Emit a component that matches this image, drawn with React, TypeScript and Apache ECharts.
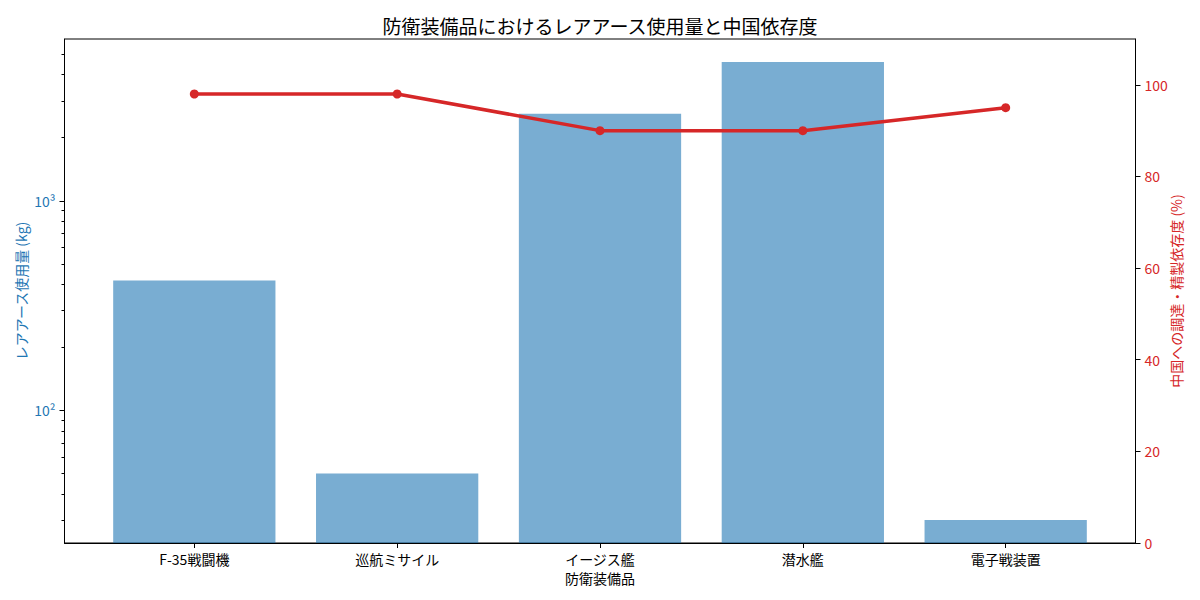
import React, { useEffect, useRef } from "react";
import * as echarts from "echarts";

const CATEGORIES = ["F-35戦闘機", "巡航ミサイル", "イージス艦", "潜水艦", "電子戦装置"];
const USAGE_KG = [417, 50, 2600, 4600, 30];
const CHINA_DEPENDENCE = [98, 98, 90, 90, 95];
const LOG_MAJOR_TICKS = [100, 1000];
const LOG_MINOR_TICKS = [30, 40, 50, 60, 70, 80, 90, 200, 300, 400, 500, 600, 700, 800, 900, 2000, 3000, 4000, 5000];
const PCT_TICKS = [0, 20, 40, 60, 80, 100];
const PCT_MAX = 110;

const TITLE = "防衛装備品におけるレアアース使用量と中国依存度";
const X_NAME = "防衛装備品";
const Y_LEFT_NAME = "レアアース使用量 (kg)";
const Y_RIGHT_NAME = "中国への調達・精製依存度 (%)";

const FONT = "'Noto Sans CJK JP', 'Noto Sans', sans-serif";
const BLUE = "#1f77b4";
const RED = "#d62728";

const SUP: Record<string, string> = { "0": "⁰", "1": "¹", "2": "²", "3": "³", "4": "⁴", "5": "⁵", "6": "⁶", "7": "⁷", "8": "⁸", "9": "⁹" };

export default function App() {
  const ref = useRef<HTMLDivElement>(null);
  useEffect(() => {
    document.body.style.margin = "0";
    const chart = echarts.init(ref.current!, undefined, { renderer: "svg" });

    const lo = Math.log10(Math.min(...USAGE_KG));
    const hi = Math.log10(Math.max(...USAGE_KG));
    const m = (hi - lo) * 0.05;
    const yMin = Math.pow(10, lo - m);
    const yMax = Math.pow(10, hi + m);

    const n = CATEGORIES.length;
    const xMin = -0.4 - (n - 1 + 0.8) * 0.05;
    const xMax = n - 1 + 0.4 + (n - 1 + 0.8) * 0.05;

    const gridLeft = 64.5;
    const gridRight = 64.5;
    const gridW = 1200 - gridLeft - gridRight;
    const barW = (0.8 * gridW) / (xMax - xMin);

    const xs = CATEGORIES.map((_, i) => i);

    chart.setOption({
      animation: false,
      backgroundColor: "#ffffff",
      textStyle: { fontFamily: FONT },
      title: {
        text: TITLE,
        left: "center",
        top: 11,
        textStyle: { fontFamily: FONT, fontSize: 19, fontWeight: "normal", color: "#000" },
      },
      grid: {
        left: gridLeft,
        right: gridRight,
        top: 39,
        bottom: 57,
        show: true,
        borderColor: "#000",
        borderWidth: 1,
        backgroundColor: "transparent",
      },
      xAxis: {
        type: "value",
        min: xMin,
        max: xMax,
        z: 10,
        name: X_NAME,
        nameLocation: "middle",
        nameGap: 28,
        nameMoveOverlap: false,
        nameTextStyle: { fontFamily: FONT, fontSize: 14, color: "#000" },
        axisLine: { show: true, onZero: false, lineStyle: { color: "#000", width: 1 } },
        axisTick: { show: true, length: 5, customValues: xs, lineStyle: { color: "#000" } },
        axisLabel: {
          customValues: xs,
          margin: 9,
          fontFamily: FONT,
          fontSize: 14,
          color: "#000",
          formatter: (v: number) => CATEGORIES[Math.round(v)] ?? "",
        },
        splitLine: { show: false },
      },
      yAxis: [
        {
          type: "log",
          logBase: 10,
          min: yMin,
          max: yMax,
          startValue: yMin,
          position: "left",
          z: 10,
          name: Y_LEFT_NAME,
          nameLocation: "middle",
          nameGap: 37,
          nameMoveOverlap: false,
          nameRotate: 90,
          nameTextStyle: { fontFamily: FONT, fontSize: 14, color: BLUE },
          axisLine: { show: true, onZero: false, lineStyle: { color: "#000", width: 1 } },
          axisTick: { show: true, length: 5, customValues: LOG_MAJOR_TICKS, lineStyle: { color: "#000" } },
          axisLabel: {
            customValues: LOG_MAJOR_TICKS,
            margin: 9,
            fontFamily: FONT,
            fontSize: 14,
            color: BLUE,
            formatter: (v: number) =>
              "10" + String(Math.round(Math.log10(v))).split("").map((c) => SUP[c] ?? c).join(""),
          },
          splitLine: { show: false },
          minorTick: { show: false },
        },
        {
          type: "log",
          logBase: 10,
          min: yMin,
          max: yMax,
          position: "left",
          z: 10,
          axisLine: { show: false, onZero: false },
          axisTick: { show: true, length: 3, customValues: LOG_MINOR_TICKS, lineStyle: { color: "#000" } },
          axisLabel: { show: false },
          splitLine: { show: false },
        },
        {
          type: "value",
          min: 0,
          max: PCT_MAX,
          position: "right",
          z: 10,
          name: Y_RIGHT_NAME,
          nameLocation: "middle",
          nameGap: 33,
          nameMoveOverlap: false,
          nameRotate: 90,
          nameTextStyle: { fontFamily: FONT, fontSize: 14, color: RED },
          axisLine: { show: true, onZero: false, lineStyle: { color: "#000", width: 1 } },
          axisTick: { show: true, length: 5, customValues: PCT_TICKS, lineStyle: { color: "#000" } },
          axisLabel: {
            customValues: PCT_TICKS,
            margin: 9,
            fontFamily: FONT,
            fontSize: 14,
            color: RED,
          },
          splitLine: { show: false },
        },
      ],
      series: [
        {
          type: "bar",
          yAxisIndex: 0,
          data: USAGE_KG.map((v, i) => [i, v]),
          barWidth: barW,
          clip: true,
          itemStyle: { color: "rgba(31,119,180,0.6)" },
        },
        {
          type: "line",
          yAxisIndex: 2,
          data: CHINA_DEPENDENCE.map((v, i) => [i, v]),
          symbol: "circle",
          symbolSize: 9,
          z: 5,
          lineStyle: { color: RED, width: 3.5 },
          itemStyle: { color: RED },
        },
      ],
    });
    return () => chart.dispose();
  }, []);
  return <div ref={ref} style={{ width: 1200, height: 600 }} />;
}
